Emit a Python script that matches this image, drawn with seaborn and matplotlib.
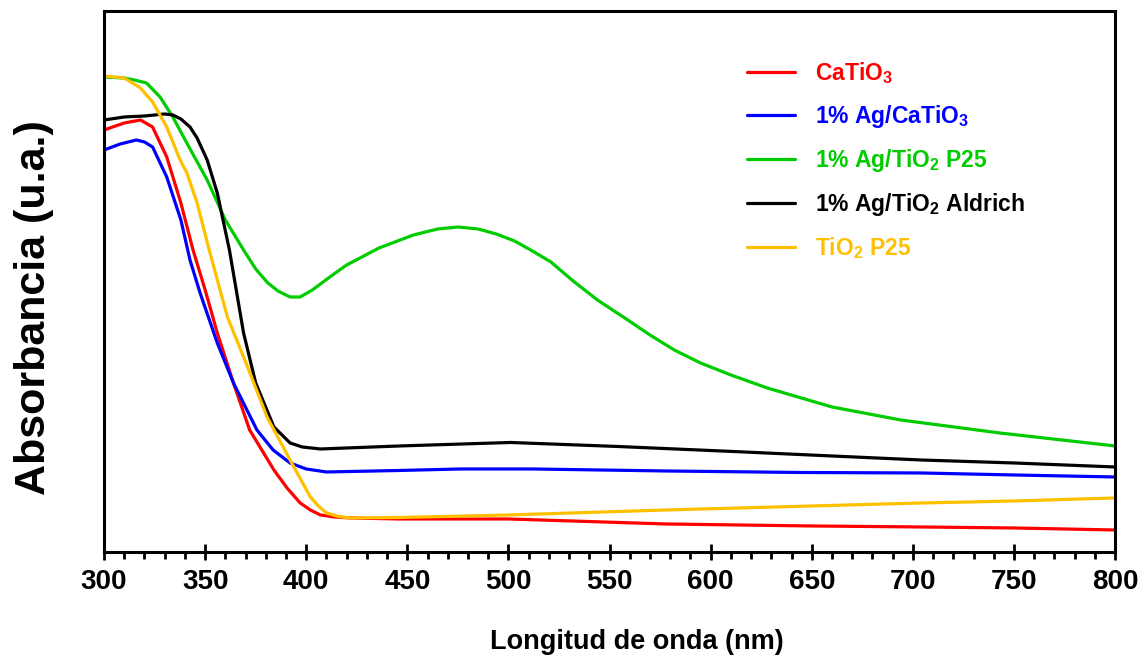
import matplotlib
matplotlib.use("Agg")
import matplotlib.pyplot as plt
from matplotlib.ticker import MultipleLocator, NullLocator
import numpy as np
import pandas as pd
import seaborn as sns

# UV-Vis diffuse reflectance spectra (absorbance, arbitrary units)
wl_catio3 = [300, 310, 318, 324, 331, 338, 344, 350, 356, 364, 372, 384, 390.5, 397,
             402, 407, 414, 422, 446, 500, 578, 650, 704, 750, 800]
abs_catio3 = [0.844, 0.858, 0.864, 0.850, 0.790, 0.698, 0.604, 0.524, 0.438, 0.338,
              0.244, 0.164, 0.128, 0.098, 0.084, 0.074, 0.070, 0.068, 0.066, 0.066,
              0.056, 0.052, 0.050, 0.048, 0.044]

wl_ag_catio3 = [300, 308, 316, 320, 324, 331, 338, 342.5, 347.5, 356, 364, 375.6,
                383.6, 392, 400, 410, 446, 476, 512, 578, 644, 704, 750, 800]
abs_ag_catio3 = [0.804, 0.816, 0.824, 0.820, 0.810, 0.750, 0.664, 0.584, 0.518, 0.418,
                 0.338, 0.244, 0.204, 0.178, 0.166, 0.160, 0.163, 0.166, 0.166, 0.162,
                 0.159, 0.158, 0.154, 0.150]

wl_ag_p25 = [300, 310, 315, 321, 327.7, 334, 342, 351, 360, 369, 375, 381, 386, 392,
             397, 403, 413, 420, 436, 453, 465, 475, 485, 494, 503, 511, 521, 532,
             544, 559, 570, 582, 595, 610, 628, 660, 694, 743, 800]
abs_ag_p25 = [0.950, 0.948, 0.944, 0.938, 0.910, 0.870, 0.810, 0.744, 0.664, 0.604,
              0.566, 0.538, 0.522, 0.510, 0.510, 0.524, 0.554, 0.574, 0.608, 0.634,
              0.646, 0.650, 0.646, 0.636, 0.622, 0.604, 0.580, 0.542, 0.504, 0.464,
              0.434, 0.404, 0.378, 0.354, 0.328, 0.290, 0.264, 0.238, 0.212]

wl_ag_aldrich = [300, 310, 320, 330, 334, 338, 342.5, 346, 351, 356, 362, 369, 375,
                 384, 392, 398, 407, 446, 501, 554, 611, 660, 704, 750, 800]
abs_ag_aldrich = [0.864, 0.870, 0.872, 0.876, 0.874, 0.866, 0.850, 0.828, 0.784, 0.718,
                  0.604, 0.438, 0.338, 0.250, 0.218, 0.210, 0.206, 0.212, 0.219, 0.211,
                  0.201, 0.192, 0.184, 0.178, 0.170]

wl_p25 = [300, 310, 318, 324, 331, 337.6, 341, 346, 352, 361, 371, 380.6, 392, 402,
          406, 410, 416, 422, 446, 500, 578, 650, 704, 750, 800]
abs_p25 = [0.952, 0.948, 0.928, 0.900, 0.850, 0.784, 0.758, 0.698, 0.604, 0.470,
           0.370, 0.270, 0.184, 0.110, 0.092, 0.078, 0.071, 0.068, 0.069, 0.074,
           0.084, 0.092, 0.098, 0.102, 0.108]

samples = [r"CaTiO$_3$", r"1% Ag/CaTiO$_3$", r"1% Ag/TiO$_2$ P25",
           r"1% Ag/TiO$_2$ Aldrich", r"TiO$_2$ P25"]
colors = ["#FF0000", "#0000FF", "#00CC00", "#000000", "#FFC000"]

series = [(wl_catio3, abs_catio3), (wl_ag_catio3, abs_ag_catio3),
          (wl_ag_p25, abs_ag_p25), (wl_ag_aldrich, abs_ag_aldrich),
          (wl_p25, abs_p25)]

frames = []
for name, (wl, ab) in zip(samples, series):
    frames.append(pd.DataFrame({"wl": wl, "abs": ab, "sample": name}))
df = pd.concat(frames, ignore_index=True)

sns.set_style("ticks")
plt.rcParams["font.family"] = ["Liberation Sans", "DejaVu Sans"]
plt.rcParams["font.weight"] = "bold"
plt.rcParams["text.color"] = "black"
plt.rcParams["axes.labelcolor"] = "black"
plt.rcParams["xtick.color"] = "black"
plt.rcParams["ytick.color"] = "black"
plt.rcParams["mathtext.fontset"] = "custom"
plt.rcParams["mathtext.default"] = "bf"
plt.rcParams["mathtext.bf"] = "Liberation Sans:bold"
plt.rcParams["mathtext.rm"] = "Liberation Sans:bold"

fig = plt.figure(figsize=(11.46, 6.62), dpi=100)
ax = fig.add_axes([0.0908, 0.1662, 0.8822, 0.8172])

sns.lineplot(data=df, x="wl", y="abs", hue="sample", hue_order=samples,
             palette=dict(zip(samples, colors)), linewidth=2.3, sort=False,
             estimator=None, ax=ax)

ax.set_xlim(300, 800)
ax.set_ylim(0, 1.082)

for s in ax.spines.values():
    s.set_linewidth(2.2)
    s.set_color("black")

ax.xaxis.set_major_locator(MultipleLocator(50))
ax.xaxis.set_minor_locator(MultipleLocator(10))
ax.yaxis.set_major_locator(NullLocator())
ax.tick_params(axis="x", which="major", direction="inout", length=12, width=2,
               labelsize=20, pad=6, colors="black")
ax.tick_params(axis="x", which="minor", direction="out", length=5, width=2)
for lab in ax.get_xticklabels():
    lab.set_fontweight("bold")

ax.set_xlabel("Longitud de onda (nm)", fontsize=19.5, fontweight="bold",
              color="black")
ax.xaxis.set_label_coords(0.527, -0.142)
ax.xaxis.label.set_va("top")
ax.set_ylabel("Absorbancia (u.a.)", fontsize=31, fontweight="bold", color="black")
ax.yaxis.set_label_coords(-0.05, 0.452)

handles, labels = ax.get_legend_handles_labels()
leg = ax.legend(handles, labels, loc="upper left", bbox_to_anchor=(0.636, 0.91),
                frameon=False, handlelength=2.1, handletextpad=0.85,
                labelspacing=0.75, borderaxespad=0, borderpad=0,
                labelcolor="linecolor", prop={"weight": "bold", "size": 16.5})
for line in leg.get_lines():
    line.set_linewidth(2.3)

fig.savefig("out.png", dpi=100)
